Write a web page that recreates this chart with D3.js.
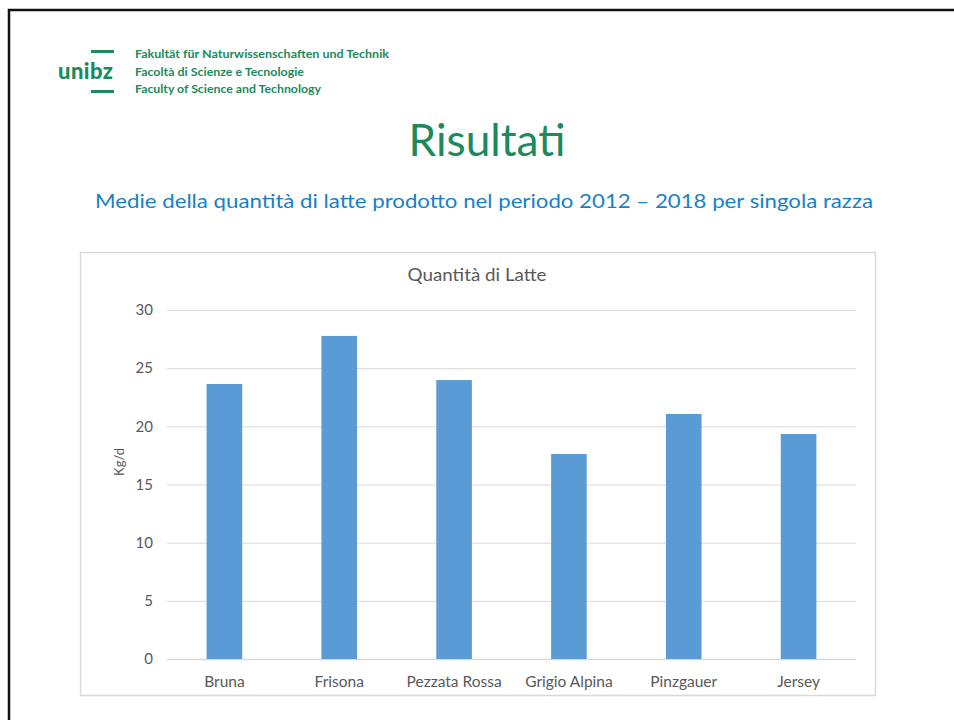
<!DOCTYPE html>
<html>
<head>
<meta charset="utf-8">
<script src="https://cdn.jsdelivr.net/npm/d3@7"></script>
<style>
	body { margin: 0; background: #fff; }
	svg text { font-family: Lato, "Open Sans", sans-serif; }
</style>
</head>
<body>
<div id="slide"></div>
<script>
// chart data
var razze = ["Bruna", "Frisona", "Pezzata Rossa", "Grigio Alpina", "Pinzgauer", "Jersey"];
var latte = [23.64, 27.77, 23.98, 17.62, 21.06, 19.34];
var yTicks = [0, 5, 10, 15, 20, 25, 30];

var headerLines = ["Fakultät für Naturwissenschaften und Technik", "Facoltà di Scienze e Tecnologie", "Faculty of Science and Technology"];

var width = 954;
var height = 720;

var svg = d3.select('#slide')
	.append('svg')
	.attr('width', width)
	.attr('height', height);

// slide frame
svg.append('rect')
	.attr('x', 9).attr('y', 10)
	.attr('width', 980).attr('height', 740)
	.attr('fill', 'none')
	.attr('stroke', '#111')
	.attr('stroke-width', 2.5);

var green = '#1b8a5c';

// logo
svg.append('text')
	.attr('x', 58).attr('y', 79)
	.attr('fill', green)
	.style('font-size', '22px')
	.style('font-weight', '900')
	.attr('textLength', 55)
	.text('unibz');

svg.append('rect').attr('x', 91).attr('y', 50).attr('width', 23).attr('height', 3).attr('fill', green);
svg.append('rect').attr('x', 91).attr('y', 90).attr('width', 23).attr('height', 3).attr('fill', green);

var hdrWidths = [254, 169, 186];

svg.selectAll('.hdr')
	.data(headerLines)
	.enter()
	.append('text')
	.attr('class', 'hdr')
	.attr('x', 135)
	.attr('y', function(d, i) { return 58 + i * 17.5; })
	.attr('fill', green)
	.style('font-size', '11.5px')
	.style('font-weight', 'bold')
	.attr('textLength', function(d, i) { return hdrWidths[i]; })
	.attr('lengthAdjust', 'spacingAndGlyphs')
	.text(function(d) { return d; });

// titles
svg.append('text')
	.attr('x', 487).attr('y', 156)
	.attr('text-anchor', 'middle')
	.attr('fill', green)
	.style('font-size', '44px')
	.attr('textLength', 157)
	.attr('lengthAdjust', 'spacingAndGlyphs')
	.text('Risultati');

svg.append('text')
	.attr('x', 484).attr('y', 208)
	.attr('text-anchor', 'middle')
	.attr('fill', '#1581c8')
	.style('font-size', '20px')
	.attr('textLength', 778)
	.attr('lengthAdjust', 'spacingAndGlyphs')
	.text('Medie della quantità di latte prodotto nel periodo 2012 – 2018 per singola razza');

// chart box
svg.append('rect')
	.attr('x', 80.5).attr('y', 252.5)
	.attr('width', 795).attr('height', 443)
	.attr('fill', '#fff')
	.attr('stroke', '#d9d9d9')
	.attr('stroke-width', 1.5);

svg.append('text')
	.attr('x', 477).attr('y', 281)
	.attr('text-anchor', 'middle')
	.attr('fill', '#595959')
	.style('font-size', '17px')
	.attr('textLength', 139)
	.attr('lengthAdjust', 'spacingAndGlyphs')
	.text('Quantità di Latte');

var plotLeft = 167, plotRight = 856, plotTop = 310, plotBottom = 659;

var x = d3.scaleBand()
	.domain(razze)
	.range([plotLeft, plotRight])
	.paddingInner(0.69)
	.paddingOuter(0.345);

var y = d3.scaleLinear()
	.domain([0, 30])
	.range([plotBottom, plotTop]);

var yAxis = d3.axisLeft(y)
	.tickValues(yTicks)
	.tickSize(-(plotRight - plotLeft))
	.tickPadding(14);

var gy = svg.append('g')
	.attr('transform', 'translate(' + plotLeft + ',0)')
	.call(yAxis);

gy.select('.domain').remove();
gy.selectAll('line')
	.attr('stroke', '#d9d9d9')
	.attr('stroke-width', function(d) { return d === 0 ? 1.5 : 1; });
gy.selectAll('text')
	.attr('fill', '#595959')
	.style('font-size', '15px')
	.style('font-family', 'Lato, sans-serif');

svg.selectAll('.bar')
	.data(latte)
	.enter()
	.append('rect')
	.attr('class', 'bar')
	.attr('x', function(d, i) { return x(razze[i]); })
	.attr('y', function(d) { return y(d); })
	.attr('width', x.bandwidth())
	.attr('height', function(d) { return y(0) - y(d); })
	.attr('fill', '#5b9bd5');

var xAxis = d3.axisBottom(x).tickSize(0).tickPadding(17);

var gx = svg.append('g')
	.attr('transform', 'translate(0,' + plotBottom + ')')
	.call(xAxis);

gx.select('.domain').remove();
gx.selectAll('text')
	.attr('fill', '#595959')
	.style('font-size', '15.5px')
	.style('font-family', 'Lato, sans-serif');

svg.append('text')
	.attr('transform', 'translate(124,462) rotate(-90)')
	.attr('text-anchor', 'middle')
	.attr('fill', '#595959')
	.style('font-size', '13px')
	.text('Kg/d');
</script>
</body>
</html>
